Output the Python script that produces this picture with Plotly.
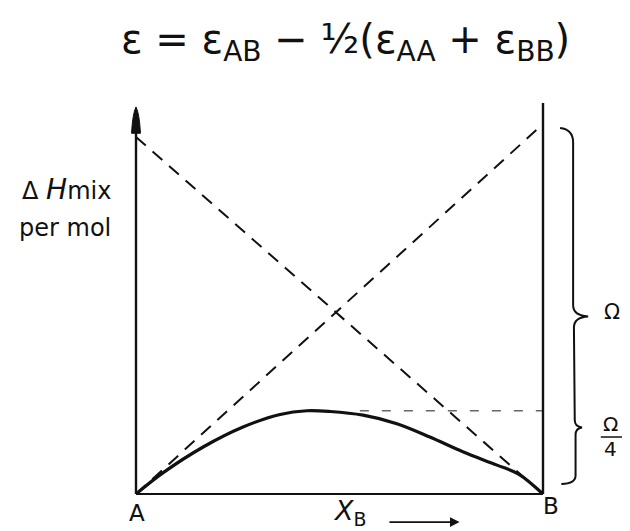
import plotly.graph_objects as go

# Mole fraction of B and the enthalpy of mixing (in units of Omega)
x_b = [0.0, 0.066, 0.165, 0.263, 0.354, 0.42, 0.477, 0.558, 0.641, 0.722, 0.803, 0.887, 0.94, 1.0]
dh_mix = [0.0, 0.057, 0.127, 0.181, 0.215, 0.225, 0.223, 0.213, 0.190, 0.154, 0.114, 0.078, 0.054, 0.0]

# End-point tangents reach Omega at the opposite side
tangent_from_A = {"x": [0.0, 1.0], "y": [0.0, 1.0]}
tangent_from_B = {"x": [0.0, 1.0], "y": [0.965, 0.0]}

peak_level = max(dh_mix)

# axis geometry in data units (x: 0..1 between A and B, y: Omega = 1)
X_RANGE = [-136 / 407, (630 - 136) / 407]
Y_RANGE = [(494 - 531) / 370, 494 / 370]

BLACK = "#111111"
FONT = "DejaVu Sans"

fig = go.Figure()

# dashed tangent lines
for t in (tangent_from_A, tangent_from_B):
    fig.add_trace(go.Scatter(
        x=t["x"], y=t["y"], mode="lines",
        line=dict(color=BLACK, width=2, dash="13px,9px"),
        hoverinfo="skip"))

# horizontal guide at the maximum of the curve
fig.add_trace(go.Scatter(
    x=[0.55, 1.0], y=[peak_level, peak_level], mode="lines",
    line=dict(color="#666666", width=1.5, dash="9px,13px"),
    hoverinfo="skip"))

# enthalpy of mixing curve
fig.add_trace(go.Scatter(
    x=x_b, y=dh_mix, mode="lines",
    line=dict(color=BLACK, width=3.2, shape="spline", smoothing=1.0),
    hoverinfo="skip"))

# hand-drawn style axes
fig.add_shape(type="line", x0=0, x1=0, y0=0, y1=1.0, line=dict(color=BLACK, width=2.4))
fig.add_shape(type="path", path="M -0.011,0.975 Q -0.008,1.03 0,1.046 Q 0.008,1.03 0.011,0.975 Z",
              fillcolor=BLACK, line=dict(color=BLACK, width=1))
fig.add_shape(type="line", x0=1, x1=1, y0=0, y1=1.057, line=dict(color=BLACK, width=2.4))
fig.add_shape(type="line", x0=0, x1=1, y0=0, y1=0, line=dict(color=BLACK, width=2))

# brace marking Omega, with a small notch for Omega/4
fig.add_shape(
    type="path",
    path=("M 1.042,0.989 Q 1.074,0.985 1.074,0.95 L 1.074,0.51 "
          "Q 1.074,0.482 1.111,0.48 Q 1.076,0.478 1.076,0.45 L 1.078,0.20 "
          "Q 1.078,0.182 1.096,0.18 Q 1.08,0.178 1.08,0.16 L 1.08,0.05 "
          "Q 1.08,0.028 1.045,0.027"),
    line=dict(color=BLACK, width=2))
fig.add_shape(type="line", x0=1.142, x1=1.194, y0=0.154, y1=0.154, line=dict(color=BLACK, width=1.5))

# x-direction arrow
fig.add_annotation(x=0.795, y=-0.076, ax=0.619, ay=-0.076, axref="x", ayref="y",
                   xref="x", yref="y", text="", showarrow=True,
                   arrowhead=2, arrowsize=1.2, arrowwidth=1.6, arrowcolor=BLACK)

def label(x, y, text, size, xanchor="center", yanchor="middle"):
    fig.add_annotation(x=x, y=y, xref="x", yref="y", text=text, showarrow=False,
                       xanchor=xanchor, yanchor=yanchor,
                       font=dict(family=FONT, size=size, color=BLACK))

label(0.515, 1.222, "ε = ε<sub>AB</sub> − ½(ε<sub>AA</sub> + ε<sub>BB</sub>)", 40)
label(-0.0565, 0.824, "<span style=\"font-size:24px\">Δ</span> <span style=\"font-size:28px\"><i>H</i></span>mix", 24, xanchor="right")
label(-0.0565, 0.719, "per mol", 24, xanchor="right")
label(0.002, -0.051, "A", 23)
label(1.02, -0.032, "B", 23)
label(0.479, -0.049, "<i>X</i><sub>B</sub>", 27, xanchor="left")
label(1.17, 0.492, "Ω", 21)
label(1.167, 0.189, "Ω", 20)
label(1.167, 0.122, "4", 20)

fig.update_layout(
    width=630, height=531,
    margin=dict(l=0, r=0, t=0, b=0),
    paper_bgcolor="white", plot_bgcolor="white",
    showlegend=False,
    xaxis=dict(range=X_RANGE, visible=False, fixedrange=True),
    yaxis=dict(range=Y_RANGE, visible=False, fixedrange=True),
)

fig.write_html("out.html")
